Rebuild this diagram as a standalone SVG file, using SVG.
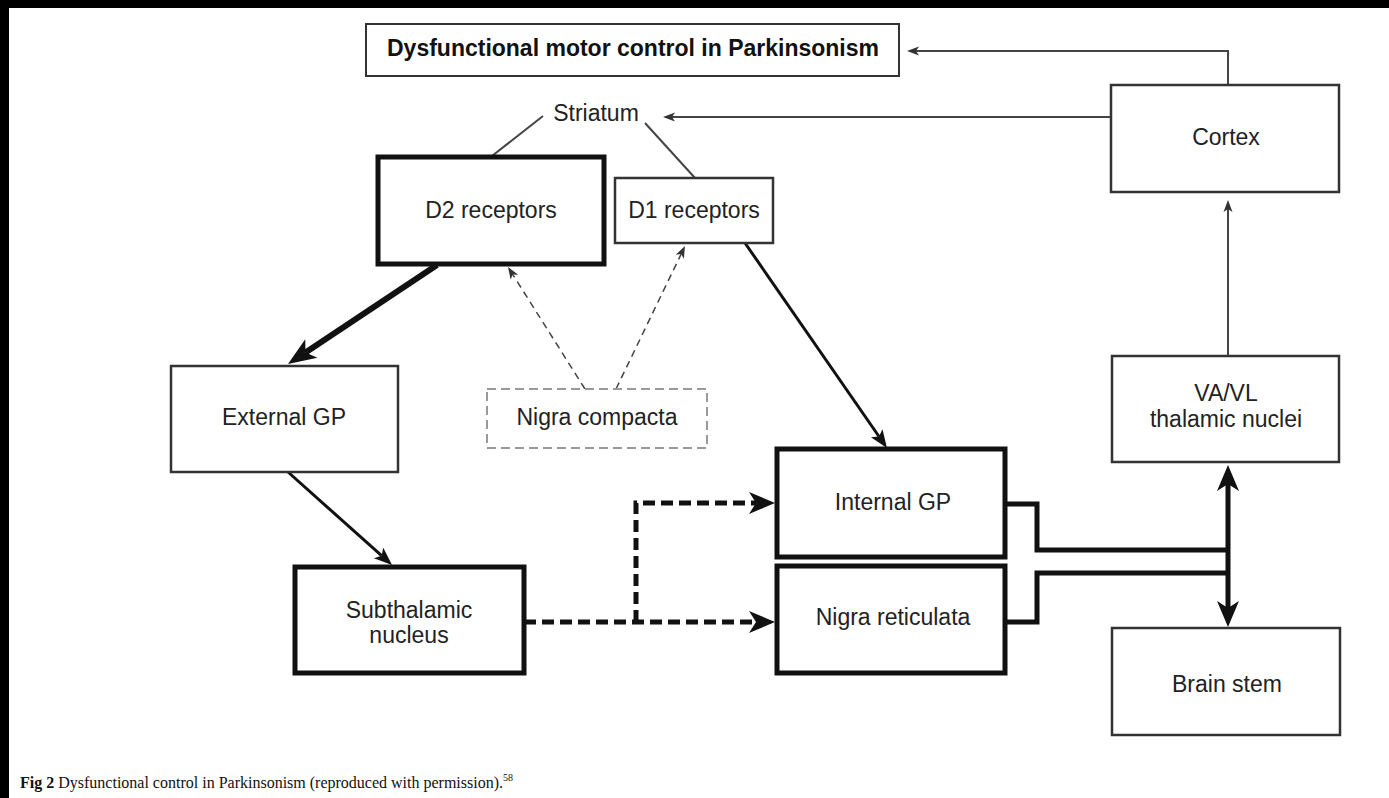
<svg xmlns="http://www.w3.org/2000/svg" width="1389" height="798" viewBox="0 0 1389 798">
<style>
.lbl{font-family:"Liberation Sans",Arial,sans-serif;font-size:23px;fill:#222;text-anchor:middle}
.ttl{font-family:"Liberation Sans",Arial,sans-serif;font-size:23px;font-weight:bold;fill:#111;text-anchor:middle}
.thin{fill:#fff;stroke:#333;stroke-width:2.5}
.thick{fill:#fff;stroke:#111;stroke-width:5}
.nc{fill:#fff;stroke:#999;stroke-width:2;stroke-dasharray:9 5}
.c1{fill:none;stroke:#444;stroke-width:2}
.c2{fill:none;stroke:#111;stroke-width:3}
.c3{fill:none;stroke:#111;stroke-width:6}
.c4{fill:none;stroke:#111;stroke-width:5}
.cd{fill:none;stroke:#444;stroke-width:1.5;stroke-dasharray:7 5}
.cdt{fill:none;stroke:#111;stroke-width:5;stroke-dasharray:12 6}
.cap{font-family:"Liberation Serif","Times New Roman",serif;font-size:16px;fill:#111}
</style>
<defs>
<marker id="ms" markerUnits="userSpaceOnUse" orient="auto" markerWidth="30" markerHeight="30" overflow="visible"><path d="M9,0 L-3,-4.5 L0,0 L-3,4.5 Z" fill="#333"/></marker>
<marker id="mm" markerUnits="userSpaceOnUse" orient="auto" markerWidth="40" markerHeight="40" overflow="visible"><path d="M14,0 L-4,-7 L0,0 L-4,7 Z" fill="#111"/></marker>
<marker id="ml" markerUnits="userSpaceOnUse" orient="auto" markerWidth="50" markerHeight="50" overflow="visible"><path d="M21,0 L-7,-11 L0,0 L-7,11 Z" fill="#111"/></marker>
<marker id="mx" markerUnits="userSpaceOnUse" orient="auto-start-reverse" markerWidth="50" markerHeight="50" overflow="visible"><path d="M19,0 L-7,-11 L0,0 L-7,11 Z" fill="#111"/></marker>
</defs>
<rect x="0" y="0" width="1389" height="798" fill="#fff"/>
<rect x="0" y="0" width="1389" height="8" fill="#000"/>
<rect x="0" y="0" width="9" height="798" fill="#000"/>

<g id="connectors">
<path class="c1" d="M1228,85 V51 H916" marker-end="url(#ms)"/>
<path class="c1" d="M1111,117 H672" marker-end="url(#ms)"/>
<path class="c1" d="M1228,356 V209" marker-end="url(#ms)"/>
<path class="c1" d="M543,116 L492,156"/>
<path class="c1" d="M645,123 L695,178"/>
<path class="c3" d="M437,265 L305.5,352.4" marker-end="url(#ml)"/>
<path class="cd" d="M585,389 L512.8,274.6" marker-end="url(#ms)"/>
<path class="cd" d="M616,389 L681.1,254.1" marker-end="url(#ms)"/>
<path class="c2" d="M745,243 L879,436.5" marker-end="url(#mm)"/>
<path class="c2" d="M288,472 L381.6,555.7" marker-end="url(#mm)"/>
<path class="cdt" d="M524,622 H756" marker-end="url(#mx)"/>
<path class="cdt" d="M636,622 V503 H756" marker-end="url(#mx)"/>
<path class="c4" d="M1005,504 H1037 V550 H1228"/>
<path class="c4" d="M1005,622 H1037 V573 H1228"/>
<path class="c4" d="M1228,484 V608" marker-start="url(#mx)" marker-end="url(#mx)"/>
</g>

<g id="title"><rect class="thin" x="366" y="24" width="533" height="52" style="stroke-width:2"/><text class="ttl" x="633" y="56">Dysfunctional motor control in Parkinsonism</text></g>
<g id="striatum"><text class="lbl" x="596" y="121">Striatum</text></g>
<g id="cortex"><rect class="thin" x="1111" y="85" width="228" height="107"/><text class="lbl" x="1226" y="145">Cortex</text></g>
<g id="d2"><rect class="thick" x="378" y="157" width="226" height="107"/><text class="lbl" x="491" y="218">D2 receptors</text></g>
<g id="d1"><rect class="thin" x="615" y="178" width="158" height="65"/><text class="lbl" x="694" y="218">D1 receptors</text></g>
<g id="vavl"><rect class="thin" x="1112" y="356" width="227" height="106"/><text class="lbl" x="1226" y="401">VA/VL</text><text class="lbl" x="1226" y="427">thalamic nuclei</text></g>
<g id="externalgp"><rect class="thin" x="171" y="366" width="227" height="106"/><text class="lbl" x="284" y="425">External GP</text></g>
<g id="nigracompacta"><rect class="nc" x="487" y="389" width="220" height="59"/><text class="lbl" x="597" y="425">Nigra compacta</text></g>
<g id="internalgp"><rect class="thick" x="777" y="449" width="228" height="108"/><text class="lbl" x="893" y="510">Internal GP</text></g>
<g id="nigrareticulata"><rect class="thick" x="777" y="566" width="228" height="107"/><text class="lbl" x="893" y="625">Nigra reticulata</text></g>
<g id="subthalamic"><rect class="thick" x="295" y="567" width="229" height="106"/><text class="lbl" x="409" y="618">Subthalamic</text><text class="lbl" x="409" y="643">nucleus</text></g>
<g id="brainstem"><rect class="thin" x="1112" y="628" width="228" height="107"/><text class="lbl" x="1227" y="692">Brain stem</text></g>

<text class="cap" x="20" y="788"><tspan font-weight="bold">Fig 2</tspan> Dysfunctional control in Parkinsonism (reproduced with permission).<tspan font-size="10" dy="-7">58</tspan></text>
</svg>
